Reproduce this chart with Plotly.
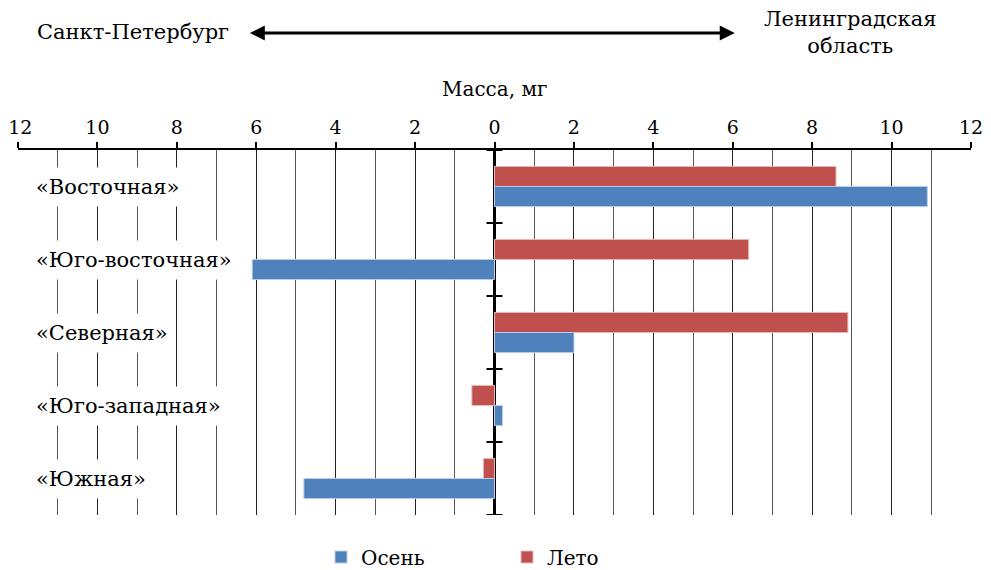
import plotly.graph_objects as go

categories = ["«Восточная»", "«Юго-восточная»", "«Северная»", "«Юго-западная»", "«Южная»"]
summer = [8.6, 6.4, 8.9, -0.57, -0.28]   # Лето
autumn = [10.9, -6.1, 2.0, 0.2, -4.8]    # Осень
tick_vals = list(range(-12, 13, 2))
tick_text = [str(abs(v)) for v in tick_vals]
tick_text[0] = "\u2005" + tick_text[0]   # keep the leftmost label inside the page edge

FONT = "DejaVu Serif"
BLUE = "#4F81BD"
RED = "#C0504D"

fig = go.Figure()
fig.add_trace(go.Bar(y=categories, x=summer, name="Лето", orientation="h",
                     marker=dict(color=RED, line=dict(color="#E6B9B8", width=1))))
fig.add_trace(go.Bar(y=categories, x=autumn, name="Осень", orientation="h",
                     marker=dict(color=BLUE, line=dict(color="#B9CDE5", width=1))))

# page body has an 8px margin, so the figure is offset by 8px
W, H = 983, 562
ML, MR, MT, MB = 10, 20, 142, 55
PLOT_H = H - MT - MB
PLOT_W = W - ML - MR
OFF = 8

def px_y(y):  # reference pixel y -> paper y
    return 1 + (MT + OFF - y) / PLOT_H

def px_x(x):
    return (x - OFF - ML) / PLOT_W

fig.update_layout(
    template="none",
    width=W, height=H,
    margin=dict(l=ML, r=MR, t=MT, b=MB, pad=0, autoexpand=False),
    paper_bgcolor="white", plot_bgcolor="white",
    barmode="group", bargap=0.45, bargroupgap=0,
    font=dict(family=FONT, size=19, color="black"),
    showlegend=True,
    legend=dict(orientation="h", traceorder="reversed", x=px_x(321), xanchor="left",
                y=px_y(557), yanchor="middle", font=dict(size=20),
                entrywidthmode="pixels", entrywidth=141, bgcolor="rgba(0,0,0,0)"),
    xaxis=dict(side="top", range=[-12, 12], tickvals=tick_vals, ticktext=tick_text,
               automargin=False, ticklabeloverflow="allow",
               showgrid=True, gridcolor="#222", gridwidth=1,
               minor=dict(dtick=1, tick0=0, showgrid=True, gridcolor="#555", gridwidth=1),
               showline=True, linecolor="black", linewidth=2,
               ticks="outside", ticklen=6, tickwidth=2, tickcolor="black",
               zeroline=True, zerolinecolor="black", zerolinewidth=3,
               tickfont=dict(size=19), fixedrange=True),
    yaxis=dict(autorange=False, range=[len(categories) - 0.5, -0.5], automargin=False,
               showticklabels=False, showgrid=False, zeroline=False, showline=False,
               ticks=""),
)

# category labels inside the plot area
for c in categories:
    fig.add_annotation(x=-11.75, y=c, xref="x", yref="y", text=c, showarrow=False,
                       xanchor="left", yanchor="middle", bgcolor="white", borderpad=7,
                       font=dict(size=21))

# tick marks on the zero line at category boundaries
for i in range(len(categories) + 1):
    fig.add_shape(type="line", xref="x", yref="y", xsizemode="pixel", xanchor=0,
                  x0=-8, x1=8, y0=i - 0.5, y1=i - 0.5,
                  line=dict(color="black", width=2))

# axis title
fig.add_annotation(x=0, y=px_y(89), xref="x", yref="paper",
                   text="Масса, мг", showarrow=False, font=dict(size=20),
                   xanchor="center", yanchor="middle")

# region labels and double arrow
fig.add_annotation(x=px_x(133), y=px_y(32), xref="paper", yref="paper",
                   text="Санкт-Петербург", showarrow=False, font=dict(size=21),
                   xanchor="center", yanchor="middle")
fig.add_annotation(x=px_x(850), y=px_y(32), xref="paper", yref="paper",
                   text="Ленинградская<br>область", showarrow=False, font=dict(size=21),
                   xanchor="center", yanchor="middle")
fig.add_annotation(x=6.05, y=px_y(33), xref="x", yref="paper",
                   ax=-6.2, ay=0, axref="x", ayref="pixel", text="", showarrow=True,
                   arrowhead=2, arrowside="end+start", arrowsize=1, arrowwidth=3,
                   arrowcolor="black")

fig.write_html("out.html")
